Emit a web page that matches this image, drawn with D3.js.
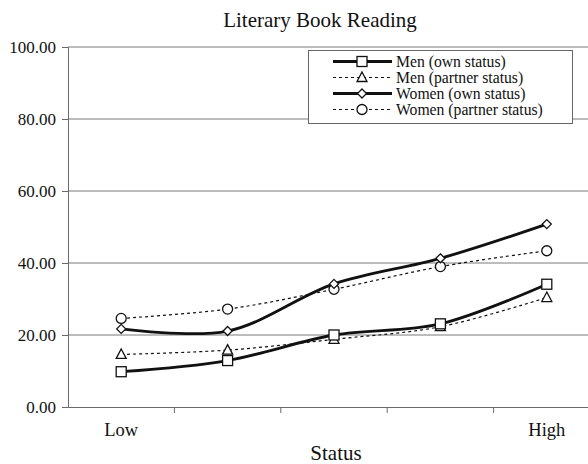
<!DOCTYPE html>
<html><head><meta charset="utf-8">
<script src="https://cdn.jsdelivr.net/npm/d3@7"></script>
<style>body{margin:0;background:#fff}svg{display:block}text{font-family:"Liberation Serif","Times New Roman",serif;fill:#111}</style>
</head><body><svg id="c" width="588" height="464"></svg>
<script>
const categories = ["Low","2","3","4","High"];
const tickLabels = ["Low","","","","High"];
const yTicks = [0,20,40,60,80,100];
const menOwn = [9.8,12.9,20.0,23.1,34.1];
const menPartner = [14.6,15.8,18.8,22.3,30.4];
const womenOwn = [21.7,21.1,34.2,41.3,50.8];
const womenPartner = [24.6,27.2,32.7,39.0,43.4];
const seriesNames = ["Men (own status)","Men (partner status)","Women (own status)","Women (partner status)"];

const series = [
  {name:seriesNames[0], values:menOwn, marker:"square", dashed:false},
  {name:seriesNames[1], values:menPartner, marker:"triangle", dashed:true},
  {name:seriesNames[2], values:womenOwn, marker:"diamond", dashed:false},
  {name:seriesNames[3], values:womenPartner, marker:"circle", dashed:true}
];

const svg = d3.select("#c");
const L=68, R=600, T=47, B=407;
const x = d3.scaleBand().domain(categories).range([L,R]);
const y = d3.scaleLinear().domain([0,100]).range([B,T]);
const cx = c => x(c)+x.bandwidth()/2;

svg.append("text").attr("x",320).attr("y",27).attr("text-anchor","middle").style("font-size","21px").text("Literary Book Reading");

// gridlines
svg.append("g").selectAll("line").data(yTicks.filter(d=>d>0)).join("line")
  .attr("x1",L).attr("x2",588).attr("y1",d=>y(d)).attr("y2",d=>y(d))
  .attr("stroke","#7a7a7a").attr("stroke-width",1);

// y axis
const ya = svg.append("g").attr("transform",`translate(${L},0)`)
  .call(d3.axisLeft(y).tickValues(yTicks).tickSize(6).tickPadding(6).tickFormat(d3.format(".2f")));
ya.selectAll("path,line").attr("stroke","#6a6a6a");
ya.selectAll("text").style("font-size","17px").style("font-family","Liberation Serif, serif").attr("fill","#111");

// x axis
const xa = svg.append("g").attr("transform",`translate(0,${B})`)
  .call(d3.axisBottom(x).tickSize(0).tickSizeOuter(0).tickPadding(16).tickFormat((d,i)=>tickLabels[i]));
xa.select("path").attr("stroke","#6a6a6a");
xa.selectAll("text").style("font-size","18.5px").style("font-family","Liberation Serif, serif").attr("fill","#111");
svg.append("g").selectAll("line").data(categories.slice(1)).join("line")
  .attr("x1",d=>x(d)).attr("x2",d=>x(d)).attr("y1",B).attr("y2",B+6).attr("stroke","#6a6a6a");

svg.append("text").attr("x",(L+R)/2+2).attr("y",460).attr("text-anchor","middle").style("font-size","21px").text("Status");

const line = d3.line().x((d,i)=>cx(categories[i])).y(d=>y(d)).curve(d3.curveCatmullRom.alpha(0.5));

function drawMarker(g, type, px, py){
  const st = {fill:"#fff", stroke:"#111", "stroke-width":1.3};
  let m;
  if(type==="square") m = g.append("rect").attr("x",px-5).attr("y",py-5).attr("width",10).attr("height",10);
  else if(type==="triangle") m = g.append("path").attr("d",`M${px},${py-5.5}L${px+5},${py+4}L${px-5},${py+4}Z`);
  else if(type==="diamond") m = g.append("path").attr("d",`M${px},${py-4.5}L${px+4.5},${py}L${px},${py+4.5}L${px-4.5},${py}Z`);
  else m = g.append("circle").attr("cx",px).attr("cy",py).attr("r",5);
  for(const k in st) m.attr(k,st[k]);
}

const order = [1,3,0,2];
order.forEach(si=>{
  const s = series[si];
  svg.append("path").datum(s.values).attr("d",line).attr("fill","none").attr("stroke","#111")
    .attr("stroke-width",s.dashed?1.2:2.8).attr("stroke-dasharray",s.dashed?"3,3":null);
});
order.forEach(si=>{
  const s = series[si];
  const g = svg.append("g");
  s.values.forEach((v,i)=>drawMarker(g,s.marker,cx(categories[i]),y(v)));
});

// legend
const lg = svg.append("g");
lg.append("rect").attr("x",308.5).attr("y",50.5).attr("width",264).attr("height",73).attr("fill","#fff").attr("stroke","#666");
series.forEach((s,i)=>{
  const yy = 61.5 + i*16;
  lg.append("line").attr("x1",333).attr("x2",392).attr("y1",yy).attr("y2",yy).attr("stroke","#111")
    .attr("stroke-width",s.dashed?1.2:2.8).attr("stroke-dasharray",s.dashed?"3,3":null);
  drawMarker(lg,s.marker,362,yy);
  lg.append("text").attr("x",396).attr("y",yy+5).style("font-size","15.7px").text(s.name);
});
</script></body></html>
